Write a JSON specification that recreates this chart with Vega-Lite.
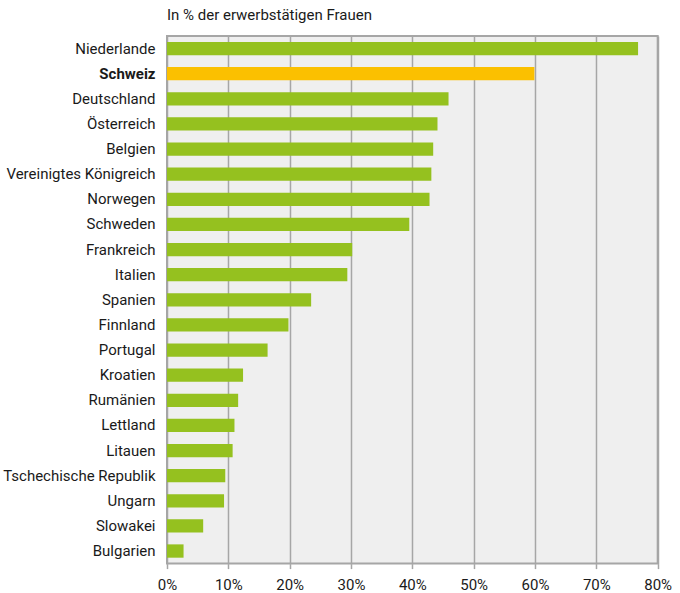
{
  "$schema": "https://vega.github.io/schema/vega-lite/v6.json",
  "autosize": "none",
  "padding": {"left": 167, "top": 36, "right": 22, "bottom": 29.4},
  "width": 490.7,
  "height": 527.6,
  "background": "#ffffff",
  "title": {"text": "In % der erwerbstätigen Frauen", "anchor": "start", "frame": "group", "offset": 13, "fontSize": 15, "font": "Roboto", "fontWeight": "normal", "color": "#1a1a1a"},
  "config": {"view": {"fill": "#efefef", "stroke": "#a6a6a6", "strokeWidth": 2}},
  "data": {"values": [
    {"land": "Niederlande", "wert": 76.8},
    {"land": "Schweiz", "wert": 59.9},
    {"land": "Deutschland", "wert": 45.9},
    {"land": "Österreich", "wert": 44.1},
    {"land": "Belgien", "wert": 43.4},
    {"land": "Vereinigtes Königreich", "wert": 43.1},
    {"land": "Norwegen", "wert": 42.8},
    {"land": "Schweden", "wert": 39.5},
    {"land": "Frankreich", "wert": 30.2},
    {"land": "Italien", "wert": 29.4},
    {"land": "Spanien", "wert": 23.5},
    {"land": "Finnland", "wert": 19.8},
    {"land": "Portugal", "wert": 16.4},
    {"land": "Kroatien", "wert": 12.4},
    {"land": "Rumänien", "wert": 11.6},
    {"land": "Lettland", "wert": 11.0},
    {"land": "Litauen", "wert": 10.7},
    {"land": "Tschechische Republik", "wert": 9.5},
    {"land": "Ungarn", "wert": 9.3},
    {"land": "Slowakei", "wert": 5.9},
    {"land": "Bulgarien", "wert": 2.7}
  ]},
  "mark": {"type": "bar"},
  "encoding": {
    "y": {"field": "land", "type": "nominal", "sort": null,
      "scale": {"paddingInner": 0.47, "paddingOuter": 0.235},
      "axis": {"title": null, "ticks": false, "domain": false, "labelPadding": 12, "labelFontSize": 15, "labelFont": "Roboto", "labelColor": "#1a1a1a",
        "labelFontWeight": {"condition": {"test": "datum.value === 'Schweiz'", "value": "bold"}, "value": "normal"}}},
    "x": {"field": "wert", "type": "quantitative",
      "scale": {"domain": [0, 80], "nice": false},
      "axis": {"title": null, "values": [0,10,20,30,40,50,60,70,80], "labelExpr": "datum.value + '%'", "grid": true, "gridColor": "#a6a6a6", "gridWidth": 1.5, "domain": false, "tickColor": "#a6a6a6", "tickWidth": 1.5, "tickSize": 5, "labelPadding": 9, "labelFontSize": 15, "labelFont": "Roboto", "labelColor": "#1a1a1a", "labelFlush": false}},
    "color": {"condition": {"test": "datum.land === 'Schweiz'", "value": "#fbc000"}, "value": "#95c11f"}
  }
}
